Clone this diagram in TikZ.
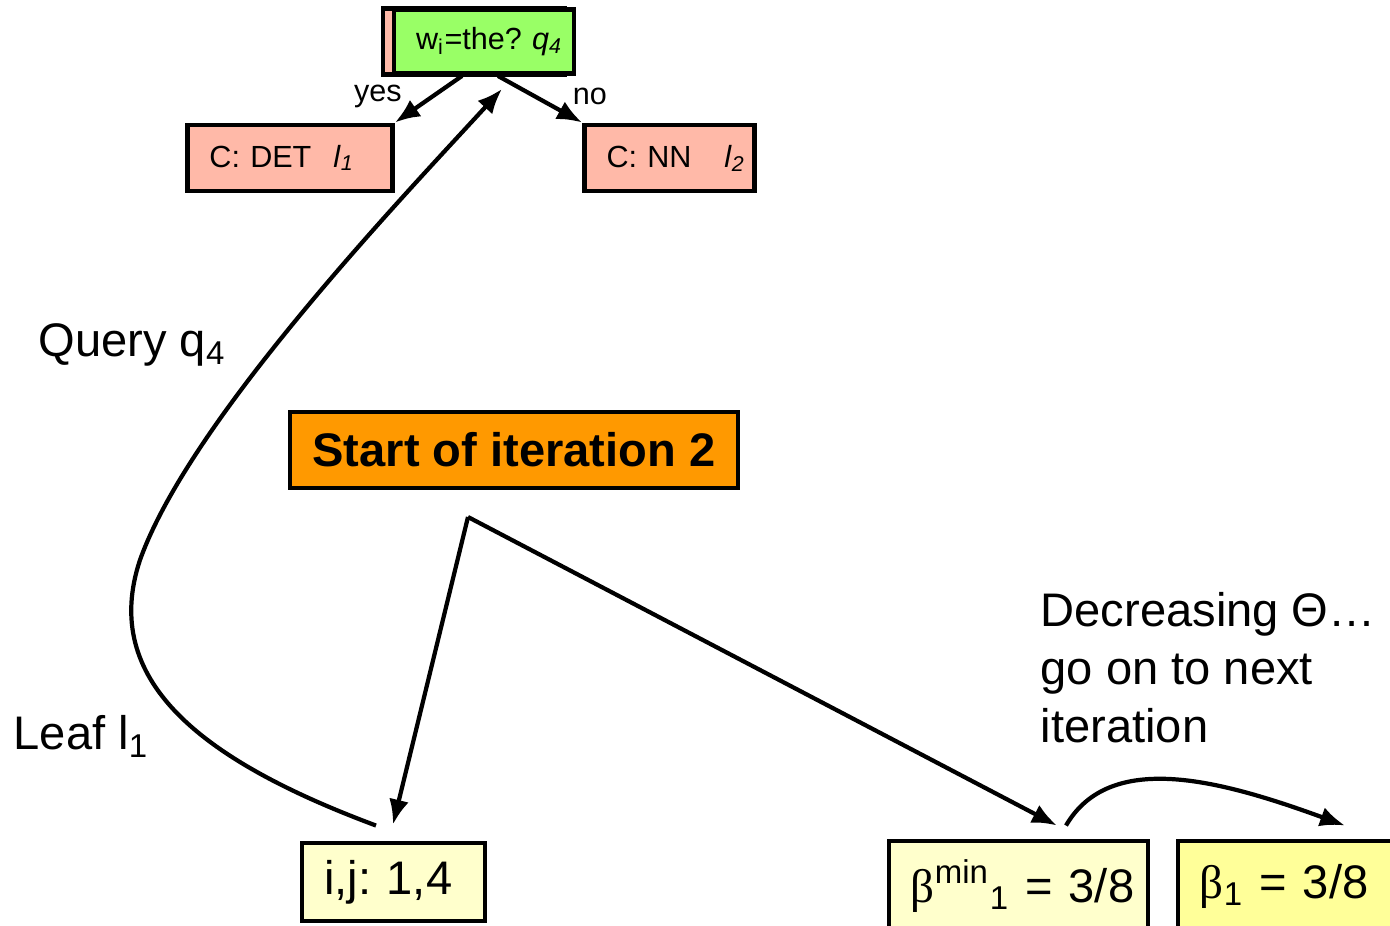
\documentclass[tikz,border=0pt]{standalone}
\usepackage{fontspec}
\setmainfont{Liberation Sans}
\newfontfamily\greekfont{Liberation Serif}
\usetikzlibrary{arrows.meta, positioning}
\usetikzlibrary{calc}
\frenchspacing
\definecolor{ink}{HTML}{000000}
\definecolor{salmon}{HTML}{FFB9A8}
\definecolor{lime}{HTML}{99FF66}
\definecolor{amber}{HTML}{FF9900}
\definecolor{cream}{HTML}{FFFFCC}
\definecolor{lemon}{HTML}{FFFF99}
\newcommand\smallfont{\fontsize{8.7}{10.4}\selectfont}
\newcommand\bigfont{\fontsize{13.4}{16.5}\selectfont}
\tikzset{
  nodebase/.style={text=ink, inner xsep=0.22cm, inner ysep=0pt, align=left},
  leafbox/.style={nodebase, font=\smallfont, draw=ink, line width=1.4pt,
    fill=salmon, minimum height=0.66cm},
  querybox/.style={leafbox, fill=lime, minimum height=0.64cm},
  banner/.style={draw=ink, line width=1.3pt, fill=amber, font=\bigfont\bfseries,
    text=ink, align=center, minimum width=4.48cm, minimum height=0.76cm},
  valbox/.style={nodebase, font=\bigfont, draw=ink, line width=1.4pt,
    fill=cream, minimum height=0.78cm},
  arrow/.style={-{Latex[length=2.5mm,width=2mm]}, draw=ink, line width=1.2pt},
  edgetext/.style={font=\smallfont, text=ink, inner sep=0pt},
  note/.style={font=\bigfont, text=ink, inner sep=0pt, align=left}
}

\begin{document}
\begin{tikzpicture}[x=1cm,y=1cm]
\useasboundingbox (0,0) rectangle (13.9,9.26);

% Decision tree
\node[leafbox, text width=1.38cm] (shadow) at (4.74,8.845) {};
\node[querybox, text width=1.36cm] (q4box) at (4.84,8.845)
  {\mbox{w\textsubscript{i}=the? \textit{q}\textsubscript{\itshape 4}}};
\node[leafbox, text width=1.61cm] (det) at (2.90,7.68)
  {\mbox{C: DET\hspace{0.22cm}\textit{l}\textsubscript{\itshape 1}}};
\node[leafbox, text width=1.26cm] (nn) at (6.695,7.68)
  {\mbox{C: NN\hspace{0.33cm}\textit{l}\textsubscript{\itshape 2}}};
\draw[arrow] ([xshift=-0.22cm]q4box.south) -- (det.north east);
\draw[arrow] ([xshift=0.14cm]q4box.south) -- (nn.north west);
\node[edgetext] (yes) at (3.78,8.30) {yes};
\node[edgetext] (no) at (5.90,8.30) {no};

% Iteration
\node[banner] (iter) at (5.14,4.76) {Start of iteration 2};
\coordinate (split) at (4.68,4.09);

% Values
\node[valbox, text width=1.39cm] (ij) at (3.935,0.44) {\mbox{i,j: 1,4}};
\node[valbox, text width=2.15cm, minimum height=0.9cm] (bmin) at (10.185,0.40)
  {\mbox{{\greekfont β}\textsuperscript{min}\textsubscript{1} = 3/8}};
\node[valbox, fill=lemon, text width=1.96cm, minimum height=0.9cm] (b1) at (12.98,0.40)
  {\mbox{{\greekfont β}\textsubscript{1} = 3/8}};

% Labels
\node[note, anchor=base west] (query) at (0.38,5.69) {Query q\textsubscript{4}};
\node[note, anchor=base west] (leaf) at (0.13,1.76) {Leaf l\textsubscript{1}};
\node[note, anchor=north west] (next) at (10.40,3.34)
  {Decreasing Θ…\\go on to next\\iteration};

% Flow
\draw[arrow] ([xshift=-0.175cm,yshift=0.15cm]ij.north)
  .. controls (2.00,1.66) and (1.00,2.46) .. (1.40,3.66)
  .. controls (1.90,5.06) and (4.00,7.26) .. ([xshift=0.18cm,yshift=-0.13cm]q4box.south);
\draw[arrow] (split) -- ([xshift=-0.005cm,yshift=0.16cm]ij.north);
\draw[arrow] (split) -- ([xshift=0.385cm,yshift=0.13cm]bmin.north);
\draw[arrow] ([xshift=0.475cm,yshift=0.13cm]bmin.north)
  .. controls (11.10,1.76) and (12.20,1.46) .. ([xshift=0.47cm,yshift=0.13cm]b1.north);

\end{tikzpicture}
\end{document}
